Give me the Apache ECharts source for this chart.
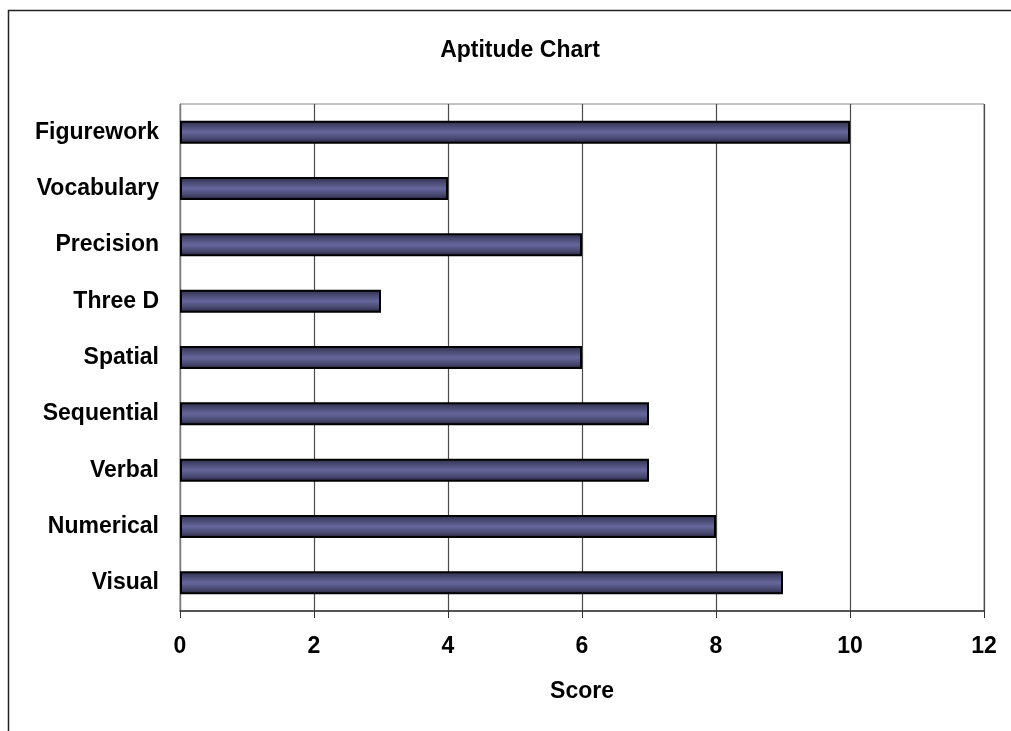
<!DOCTYPE html>
<html>
<head>
<meta charset="utf-8">
<script src="https://cdn.jsdelivr.net/npm/echarts@6/dist/echarts.min.js"></script>
<style>html,body{margin:0;padding:0;background:#fff;}#main{width:1011px;height:731px;}</style>
</head>
<body>
<div id="main"></div>
<script>
var categories = ['Visual','Numerical','Verbal','Sequential','Spatial','Three D','Precision','Vocabulary','Figurework'];
var scores = [9, 8, 7, 7, 6, 3, 6, 4, 10];
var xTicks = [0, 2, 4, 6, 8, 10, 12];

var chart = echarts.init(document.getElementById('main'));
var font = '"Liberation Sans", Arial, sans-serif';
chart.setOption({
  backgroundColor: '#ffffff',
  animation: false,
  title: {
    text: 'Aptitude Chart', left: 515, top: 34, textAlign: 'center',
    textStyle: {fontFamily: font, fontWeight: 'bold', fontSize: 23, color: '#000'}
  },
  graphic: [{
    type: 'rect', silent: true,
    shape: {x: 8.5, y: 10.5, width: 1020, height: 740},
    style: {fill: 'none', stroke: '#222', lineWidth: 1.5}
  }],
  grid: {left: 180, right: 27, top: 104, bottom: 120, show: true, borderColor: '#888', borderWidth: 1},
  xAxis: {
    type: 'value', min: xTicks[0], max: xTicks[xTicks.length-1], interval: 2,
    name: 'Score', nameLocation: 'middle', nameGap: 69,
    nameTextStyle: {fontFamily: font, fontWeight: 'bold', fontSize: 23, color: '#000'},
    axisLine: {show: true, lineStyle: {color: '#333', width: 1.5}},
    axisTick: {show: true, length: 7, lineStyle: {color: '#333'}},
    axisLabel: {margin: 24, fontFamily: font, fontWeight: 'bold', fontSize: 23, color: '#000'},
    splitLine: {show: true, lineStyle: {color: '#4a4a4a', width: 1.2}}
  },
  yAxis: {
    type: 'category', data: categories,
    axisLine: {show: true, lineStyle: {color: '#777', width: 1.2}},
    axisTick: {show: false},
    axisLabel: {margin: 21, fontFamily: font, fontWeight: 'bold', fontSize: 23, color: '#000'}
  },
  series: [{
    type: 'bar', data: scores, barWidth: 23,
    itemStyle: {
      borderColor: '#000', borderWidth: 2,
      color: new echarts.graphic.LinearGradient(0, 0, 0, 1, [
        {offset: 0, color: '#2a2a44'},
        {offset: 0.2, color: '#45456c'},
        {offset: 0.5, color: '#66669c'},
        {offset: 0.8, color: '#45456c'},
        {offset: 1, color: '#1e1e30'}
      ])
    }
  }]
});
</script>
</body>
</html>
